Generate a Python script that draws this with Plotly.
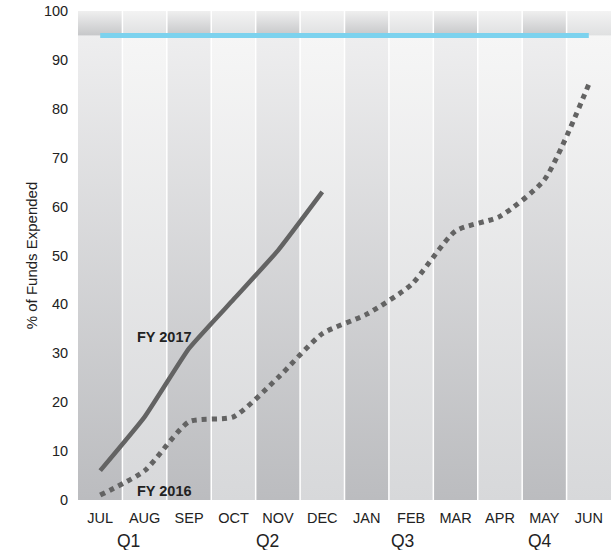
import plotly.graph_objects as go

months = ["JUL", "AUG", "SEP", "OCT", "NOV", "DEC", "JAN", "FEB", "MAR", "APR", "MAY", "JUN"]
quarters = ["Q1", "Q2", "Q3", "Q4"]
quarter_pos = [0.64, 3.76, 6.81, 9.9]
fy2017 = [6, 17, 31, 41, 51, 63]
fy2016 = [1, 6, 16, 17, 25, 34, 38, 44, 55, 58, 65.5, 85]
target = 95
y_ticks = [0, 10, 20, 30, 40, 50, 60, 70, 80, 90, 100]

n = len(months)
idx = list(range(n))
fig = go.Figure()

# background columns with vertical gradients
for i in idx:
    dark = (i % 2 == 0)
    lo, hi = ("#bbbcbf", "#eeeeef") if dark else ("#d7d8da", "#f6f6f6")
    fig.add_trace(go.Scatter(
        x=[i - 0.5, i + 0.5, i + 0.5, i - 0.5, i - 0.5],
        y=[0, 0, target, target, 0],
        mode="lines", line=dict(width=0), fill="toself",
        fillgradient=dict(type="vertical", start=0, stop=target,
                          colorscale=[[0, lo], [1, hi]]),
        hoverinfo="skip", showlegend=False))
    tlo, thi = ("#c6c7c9", "#efefef") if dark else ("#dfe0e1", "#f3f3f3")
    fig.add_trace(go.Scatter(
        x=[i - 0.5, i + 0.5, i + 0.5, i - 0.5, i - 0.5],
        y=[target, target, 100, 100, target],
        mode="lines", line=dict(width=0), fill="toself",
        fillgradient=dict(type="vertical", start=target, stop=100,
                          colorscale=[[0, tlo], [1, thi]]),
        hoverinfo="skip", showlegend=False))

# white separators
sx, sy = [], []
for i in idx[:-1]:
    sx += [i + 0.5, i + 0.5, None]
    sy += [0, 100, None]
fig.add_trace(go.Scatter(x=sx, y=sy, mode="lines",
                         line=dict(color="white", width=1.5),
                         hoverinfo="skip", showlegend=False))

# target line
fig.add_trace(go.Scatter(x=[0, n - 1], y=[target, target], mode="lines",
                         line=dict(color="#7cd2ee", width=5),
                         hoverinfo="skip", showlegend=False))

fig.add_trace(go.Scatter(x=idx[:len(fy2016)], y=fy2016, mode="lines",
                         line=dict(color="#636363", width=5, dash="dot",
                                   shape="spline", smoothing=0.6),
                         showlegend=False))
fig.add_trace(go.Scatter(x=idx[:len(fy2017)], y=fy2017, mode="lines",
                         line=dict(color="#636363", width=4.5,
                                   shape="spline", smoothing=0.4),
                         showlegend=False))

fig.add_annotation(x=1.44, y=33.3, text="<b>FY 2017</b>", showarrow=False,
                   font=dict(size=14.5, color="#222"))
fig.add_annotation(x=1.44, y=1.9, text="<b>FY 2016</b>", showarrow=False,
                   font=dict(size=14.5, color="#222"))

for q, p in zip(quarters, quarter_pos):
    fig.add_annotation(x=p, y=0, yref="paper", yanchor="middle", yshift=-41,
                       text=q, showarrow=False,
                       font=dict(size=17.5, color="#222"))

fig.update_layout(
    width=611, height=550,
    margin=dict(l=78, r=0, t=11, b=50, autoexpand=False),
    paper_bgcolor="white", plot_bgcolor="white",
    font=dict(family="Liberation Sans, Arial, sans-serif", color="#222"),
    xaxis=dict(range=[-0.5, n - 0.5], tickvals=idx, ticktext=months,
               showgrid=False, zeroline=False, showline=False,
               tickfont=dict(size=14.5, color="#222"),
               ticks="outside", ticklen=5, tickcolor="rgba(0,0,0,0)",
               fixedrange=True),
    yaxis=dict(range=[0, 100], tickvals=y_ticks, showgrid=False,
               zeroline=False, showline=False,
               ticks="outside", ticklen=6, tickcolor="rgba(0,0,0,0)",
               tickfont=dict(size=14.5, color="#222"),
               ticklabeloverflow="allow",
               title=dict(text="% of Funds Expended", font=dict(size=15, color="#222"),
                          standoff=2),
               fixedrange=True),
)

fig.write_html("out.html", config={"displayModeBar": False},
               post_script="document.body.style.margin='0px';")
